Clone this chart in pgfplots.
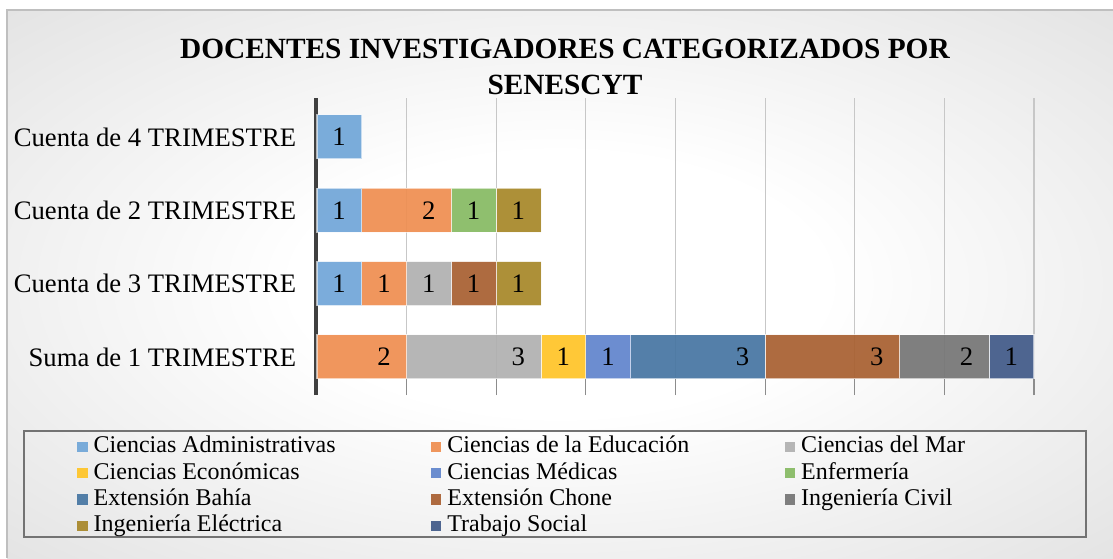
\documentclass[border=0pt]{standalone}
\usepackage{fontspec}
\setmainfont{Liberation Serif}
\usepackage{pgfplots}
\usepackage{pgfplotstable}
\pgfplotsset{compat=1.18}
\definecolor{cAdm}{RGB}{112,166,216}
\definecolor{cEdu}{RGB}{239,142,80}
\definecolor{cMar}{RGB}{176,176,176}
\definecolor{cEco}{RGB}{255,196,38}
\definecolor{cMed}{RGB}{96,132,204}
\definecolor{cEnf}{RGB}{134,186,98}
\definecolor{cBah}{RGB}{70,117,162}
\definecolor{cCho}{RGB}{168,95,48}
\definecolor{cCiv}{RGB}{117,117,117}
\definecolor{cEle}{RGB}{167,135,40}
\definecolor{cSoc}{RGB}{64,89,136}
\pgfdeclareradialshading{fondo}{\pgfpoint{0bp}{0bp}}{color(0bp)=(white); color(12bp)=(white); color(45bp)=(black!15); color(71bp)=(black!26)}
\newcommand\ent[1]{\makebox[252pt][l]{#1}}
% etiqueta alineada hacia el final del segmento (un segmento de 1 mide 33.6pt)
\newcommand\etiq{%
  \pgfmathfloatifflags{\pgfplotspointmeta}{0}{}{%
    \pgfmathfloattofixed{\pgfplotspointmeta}%
    \pgfmathsetlengthmacro\anchoet{\pgfmathresult*33.6pt-24pt}%
    \makebox[\anchoet][r]{\pgfmathprintnumber{\pgfplotspointmeta}}}}

% filas: 0 = Suma de 1, 1 = Cuenta de 3, 2 = Cuenta de 2, 3 = Cuenta de 4
\pgfplotstableread{
cat adm edu mar eco med enf bah cho civ ele soc
0   0   2   3   1   1   0   3   3   2   0   1
1   1   1   1   0   0   0   0   1   0   1   0
2   1   2   0   0   0   1   0   0   0   1   0
3   1   0   0   0   0   0   0   0   0   0   0
}\datos

\begin{document}
\begin{tikzpicture}[x=0.75pt,y=0.75pt]
\useasboundingbox (0,0) rectangle (1113,-558);
\shade[shading=fondo] (7,-10) rectangle (1113,-558);
\draw[black!25, line width=1pt] (7,-558) -- (7,-10) -- (1113,-10);
\node[font=\fontsize{22}{26}\selectfont\bfseries, anchor=base, inner sep=0pt] at (565,-58) {DOCENTES INVESTIGADORES CATEGORIZADOS POR};
\node[font=\fontsize{22}{26}\selectfont\bfseries, anchor=base, inner sep=0pt] at (565,-94) {SENESCYT};
\draw[black!55, line width=1.1pt] (24,-431) rectangle (1086,-537);
\begin{axis}[
  at={(237.75pt,-296.25pt)}, anchor=south west,
  scale only axis, width=537.75pt, height=222.75pt,
  clip=false,
  xbar stacked, bar width=33pt,
  xmin=0, xmax=16, ymin=-0.52, ymax=3.53,
  /pgf/number format/assume math mode=true,
  axis lines*=left,
  x axis line style={draw=none},
  y axis line style={draw=none},
  xtick={0,2,...,16}, xticklabels={},
  xtick align=inside, xtick style={black!45, line width=0.8pt},
  major tick length=12pt,
  xmajorgrids, grid style={black!22, line width=0.8pt},
  ytick={0,1,2,3},
  yticklabels={Suma de 1 TRIMESTRE, Cuenta de 3 TRIMESTRE, Cuenta de 2 TRIMESTRE, Cuenta de 4 TRIMESTRE},
  ytick style={draw=none},
  yticklabel style={font=\fontsize{20}{24}\selectfont, anchor=east, inner sep=0pt, xshift=-15.5pt},
  every axis plot/.append style={draw=white, line width=0.8pt, draw opacity=0.6, fill opacity=0.92},
  point meta=rawx,
  nodes near coords={\etiq},
  every node near coord/.append style={font=\fontsize{20}{24}\selectfont, anchor=center, inner sep=0pt, text=black, text opacity=1},
  legend columns=3,
  legend cell align=left,
  legend style={draw=none, fill=none, at={(-0.3347,-0.1313)}, anchor=north west,
    inner sep=0pt, row sep=0.7pt,
    font=\fontsize{18}{21}\selectfont,
    nodes={inner sep=1pt, text height=13pt, text depth=4pt, anchor=west},
    /tikz/every odd column/.append style={column sep=3.5pt}},
  legend image code/.code={\fill[#1, draw=none] (0pt,-3.9pt) rectangle (7.8pt,3.9pt);},
]
\addplot[fill=cAdm] table[x=adm, y=cat] {\datos}; \addlegendentry{\ent{Ciencias Administrativas}}
\addplot[fill=cEdu] table[x=edu, y=cat] {\datos}; \addlegendentry{\ent{Ciencias de la Educación}}
\addplot[fill=cMar] table[x=mar, y=cat] {\datos}; \addlegendentry{\ent{Ciencias del Mar}}
\addplot[fill=cEco] table[x=eco, y=cat] {\datos}; \addlegendentry{\ent{Ciencias Económicas}}
\addplot[fill=cMed] table[x=med, y=cat] {\datos}; \addlegendentry{\ent{Ciencias Médicas}}
\addplot[fill=cEnf] table[x=enf, y=cat] {\datos}; \addlegendentry{\ent{Enfermería}}
\addplot[fill=cBah] table[x=bah, y=cat] {\datos}; \addlegendentry{\ent{Extensión Bahía}}
\addplot[fill=cCho] table[x=cho, y=cat] {\datos}; \addlegendentry{\ent{Extensión Chone}}
\addplot[fill=cCiv] table[x=civ, y=cat] {\datos}; \addlegendentry{\ent{Ingeniería Civil}}
\addplot[fill=cEle] table[x=ele, y=cat] {\datos}; \addlegendentry{\ent{Ingeniería Eléctrica}}
\addplot[fill=cSoc] table[x=soc, y=cat] {\datos}; \addlegendentry{\ent{Trabajo Social}}
% eje vertical oscuro, encima de las barras
\draw[black!75, line width=3pt] ([xshift=-1pt]rel axis cs:0,0) -- ([xshift=-1pt]rel axis cs:0,1);
\end{axis}
\end{tikzpicture}
\end{document}
